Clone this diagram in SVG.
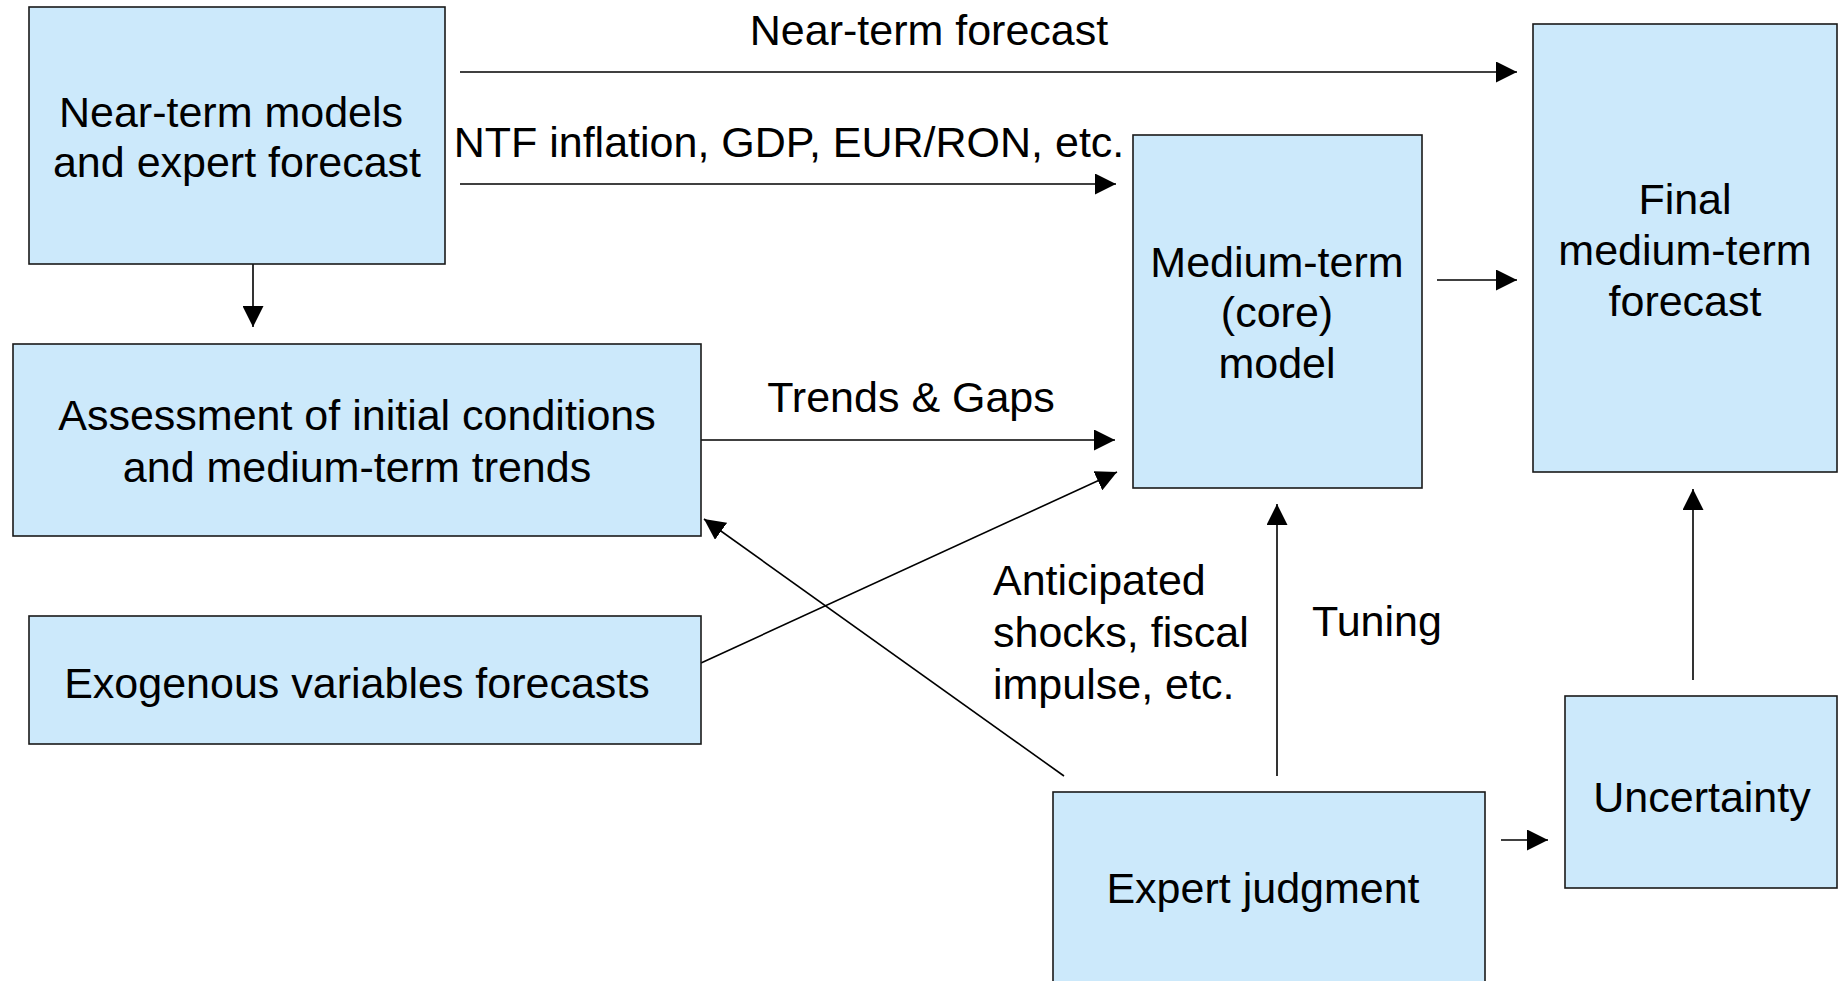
<svg xmlns="http://www.w3.org/2000/svg" width="1839" height="981" viewBox="0 0 1839 981">
<defs>
<style>
.box{fill:#CCE9FB;stroke:#1a1a1a;stroke-width:1.6}
.t{font-family:"Liberation Sans",Arial,sans-serif;font-size:43px;fill:#000}
.m{text-anchor:middle}
.c{stroke:#000;stroke-width:1.6;fill:none;marker-end:url(#ah)}
</style>
<marker id="ah" viewBox="0 0 20 20" refX="20" refY="10" markerWidth="21" markerHeight="21" markerUnits="userSpaceOnUse" orient="auto">
<path d="M0,0 L20,10 L0,20 z" fill="#000"/>
</marker>
</defs>
<rect width="1839" height="981" fill="#fff"/>
<g id="connectors">
<line class="c" x1="460" y1="72" x2="1517" y2="72"/>
<line class="c" x1="460" y1="184" x2="1116" y2="184"/>
<line class="c" x1="1437" y1="280" x2="1517" y2="280"/>
<line class="c" x1="253" y1="264" x2="253" y2="327"/>
<line class="c" x1="701" y1="440" x2="1115" y2="440"/>
<line class="c" x1="701" y1="663" x2="1117" y2="472"/>
<line class="c" x1="1064" y1="776" x2="704" y2="519"/>
<line class="c" x1="1277" y1="776" x2="1277" y2="504"/>
<line class="c" x1="1501" y1="840" x2="1548" y2="840"/>
<line class="c" x1="1693" y1="680" x2="1693" y2="489"/>
<text class="t m" x="929" y="45">Near-term forecast</text>
<text class="t m" x="789" y="157">NTF inflation, GDP, EUR/RON, etc.</text>
<text class="t m" x="911" y="412">Trends &amp; Gaps</text>
<text class="t" x="993" y="595">Anticipated</text>
<text class="t" x="993" y="647">shocks, fiscal</text>
<text class="t" x="993" y="699">impulse, etc.</text>
<text class="t" x="1312" y="636">Tuning</text>
</g>
<g id="near-term-models">
<rect class="box" x="29" y="7" width="416" height="257"/>
<text class="t m" x="231" y="127">Near-term models</text>
<text class="t m" x="237" y="177">and expert forecast</text>
</g>
<g id="assessment">
<rect class="box" x="13" y="344" width="688" height="192"/>
<text class="t m" x="357" y="430">Assessment of initial conditions</text>
<text class="t m" x="357" y="482">and medium-term trends</text>
</g>
<g id="exogenous">
<rect class="box" x="29" y="616" width="672" height="128"/>
<text class="t m" x="357" y="698">Exogenous variables forecasts</text>
</g>
<g id="medium-term-model">
<rect class="box" x="1133" y="135" width="289" height="353"/>
<text class="t m" x="1277" y="277">Medium-term</text>
<text class="t m" x="1277" y="327">(core)</text>
<text class="t m" x="1277" y="378">model</text>
</g>
<g id="final-forecast">
<rect class="box" x="1533" y="24" width="304" height="448"/>
<text class="t m" x="1685" y="214">Final</text>
<text class="t m" x="1685" y="265">medium-term</text>
<text class="t m" x="1685" y="316">forecast</text>
</g>
<g id="expert-judgment">
<rect class="box" x="1053" y="792" width="432" height="210"/>
<text class="t m" x="1263" y="903">Expert judgment</text>
</g>
<g id="uncertainty">
<rect class="box" x="1565" y="696" width="272" height="192"/>
<text class="t m" x="1702" y="812">Uncertainty</text>
</g>
</svg>
